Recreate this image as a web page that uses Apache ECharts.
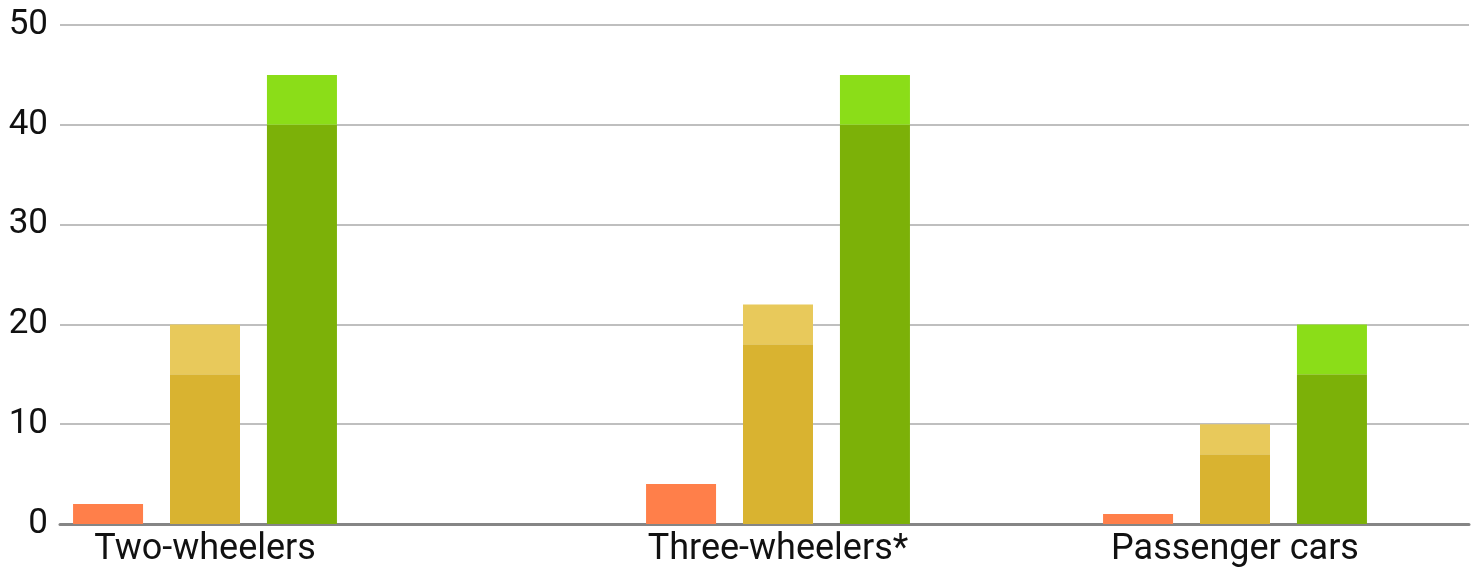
<!DOCTYPE html>
<html>
<head>
<meta charset="utf-8">
<script src="https://cdn.jsdelivr.net/npm/echarts@6/dist/echarts.min.js"></script>
<style>
  html, body { margin: 0; padding: 0; background: #fff; }
  #chart { width: 1480px; height: 569px; }
</style>
</head>
<body>
<div id="chart"></div>
<script>
// values
const categories = ['Two-wheelers', 'Three-wheelers*', 'Passenger cars'];
const lowValues = [2, 4, 1];
const midLow = [15, 18, 7];
const midHigh = [20, 22, 10];
const highLow = [40, 40, 15];
const highHigh = [45, 45, 20];
const yTicks = [0, 10, 20, 30, 40, 50];

// colours
const orange = '#ff7f4a';
const yellowDark = '#d9b330';
const yellowLight = '#e8c95b';
const greenDark = '#7cb108';
const greenLight = '#8bdd18';

// each group gets its own small grid (groups are not evenly spaced)
const groupLeft = [73, 646, 1103];
const groupWidth = 264;
const TOP = 25, BOTTOM = 45;

const chart = echarts.init(document.getElementById('chart'), null, { renderer: 'canvas' });

const grids = [{ left: 60, right: 11, top: TOP, bottom: BOTTOM }];
const xAxes = [{
  type: 'category', gridIndex: 0, data: [''],
  axisLine: { show: true, lineStyle: { color: '#858585', width: 3 } },
  axisTick: { show: false }, axisLabel: { show: false }
}];
const yAxes = [{
  type: 'value', gridIndex: 0, min: yTicks[0], max: yTicks[yTicks.length - 1], interval: 10,
  axisLine: { show: false }, axisTick: { show: false },
  axisLabel: { color: '#111', fontSize: 35, fontFamily: 'Roboto', margin: 12 },
  splitLine: { lineStyle: { color: '#bfbfbf', width: 2 } }
}];
const series = [];

categories.forEach((name, i) => {
  const g = i + 1;
  grids.push({ left: groupLeft[i], width: groupWidth, top: TOP, bottom: BOTTOM });
  xAxes.push({
    type: 'category', gridIndex: g, data: [name],
    axisLine: { show: false }, axisTick: { show: false },
    axisLabel: { color: '#111', fontSize: 36, fontFamily: 'Roboto', margin: 8 }
  });
  yAxes.push({
    type: 'value', gridIndex: g, min: 0, max: 50, interval: 10, show: false,
    splitLine: { show: false }
  });
  const base = { type: 'bar', xAxisIndex: g, yAxisIndex: g, barWidth: 70, barGap: '38.5%', silent: true };
  series.push(
    { ...base, name: 'low', data: [lowValues[i]], itemStyle: { color: orange } },
    { ...base, name: 'mid', stack: 'mid' + i, data: [midLow[i]], itemStyle: { color: yellowDark } },
    { ...base, name: 'mid+', stack: 'mid' + i, data: [midHigh[i] - midLow[i]], itemStyle: { color: yellowLight } },
    { ...base, name: 'high', stack: 'high' + i, data: [highLow[i]], itemStyle: { color: greenDark } },
    { ...base, name: 'high+', stack: 'high' + i, data: [highHigh[i] - highLow[i]], itemStyle: { color: greenLight } }
  );
});

chart.setOption({
  animation: false,
  backgroundColor: '#ffffff',
  grid: grids,
  xAxis: xAxes,
  yAxis: yAxes,
  series: series
});
</script>
</body>
</html>
